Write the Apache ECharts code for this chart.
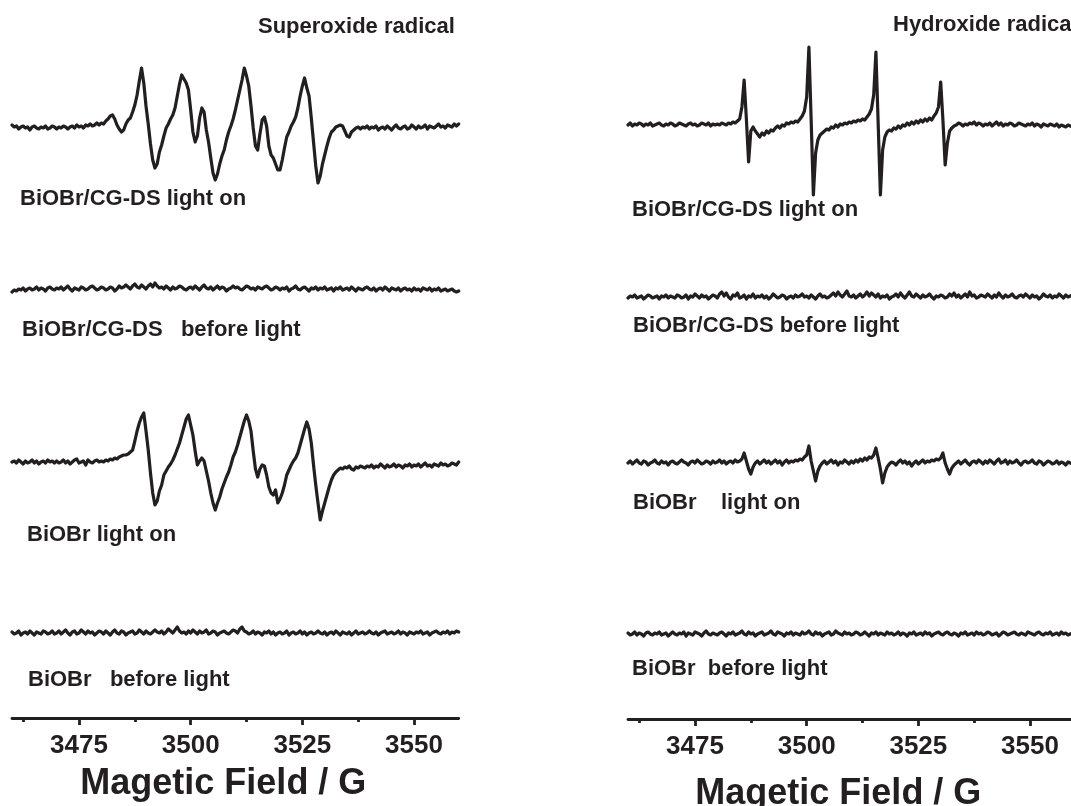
<!DOCTYPE html>
<html>
<head>
<meta charset="utf-8">
<script src="https://cdn.jsdelivr.net/npm/echarts/dist/echarts.min.js"></script>
<style>
html,body{margin:0;padding:0;background:#ffffff;}
#chart{width:1071px;height:806px;}
</style>
</head>
<body>
<div id="chart"></div>
<script>
// ---- Data (intensities in arbitrary units, sampled every 0.5 G from 3460 G) ----
const FIELD_START = 3460;
const FIELD_STEP = 0.5;
const FIELD_MIN = 3460;
const FIELD_MAX = 3560;
const majorTicks = [3475, 3500, 3525, 3550];
const minorTicks = [3462.5, 3487.5, 3512.5, 3537.5];
const axisTitle = 'Magetic Field / G';
const panelTitles = ['Superoxide radical', 'Hydroxide radical'];
const superoxideLabels = ['BiOBr/CG-DS light on', 'BiOBr/CG-DS   before light', 'BiOBr light on', 'BiOBr   before light'];
const hydroxideLabels = ['BiOBr/CG-DS light on', 'BiOBr/CG-DS before light', 'BiOBr    light on', 'BiOBr  before light'];

// Superoxide radical panel
const superoxideCompositeLightOn = [
  3,1,2,-1,1,2,0,1,-2,1,2,0,-1,1,0,2,-1,0,2,1,
  -1,1,0,2,1,-1,1,2,0,3,1,2,0,3,2,4,2,3,5,3,
  5,4,7,9,12,13,9,3,-1,-4,-2,4,8,10,16,23,33,47,60,45,
  22,4,-16,-32,-40,-36,-24,-17,-8,0,4,9,13,20,32,44,53,49,45,38,
  18,-4,-14,-8,10,20,16,-2,-14,-30,-45,-52,-46,-36,-28,-22,-12,-4,2,9,
  18,28,38,48,60,52,42,22,0,-18,-22,-6,8,11,2,-18,-27,-30,-36,-42,
  -42,-32,-20,-9,-4,2,6,11,20,32,42,50,40,32,10,-14,-38,-55,-48,-36,
  -27,-18,-10,-4,-2,1,2,3,2,-3,-8,-9,-4,-2,0,1,-1,1,0,2,
  -1,1,0,2,-2,0,1,-1,2,0,-2,1,3,0,-1,1,2,-1,0,3,
  1,-1,2,0,1,3,-1,2,1,0,2,4,1,2,0,3,2,1,4,2,
  4
];
const superoxideCompositeDark = [
  -3,-1,-2,0,-1,1,-2,0,1,-1,0,2,-1,1,0,-2,1,2,0,-1,
  1,0,2,-1,1,3,0,-2,1,0,-1,2,1,-1,0,2,3,1,-1,0,
  2,1,-1,0,2,1,-2,0,3,1,2,4,2,0,3,5,2,1,4,2,
  0,3,5,2,6,3,1,2,0,3,1,-1,2,0,1,3,2,0,-1,1,
  2,0,3,1,-1,2,4,1,0,2,-1,1,3,0,2,1,-2,0,1,3,
  1,2,0,-1,1,3,2,0,1,-1,2,1,0,2,3,1,-1,0,2,1,
  -1,1,0,2,-2,0,1,3,0,-1,1,2,0,-2,1,0,2,-1,1,0,
  2,-1,0,1,-2,1,0,2,-1,0,1,-1,2,0,-2,1,0,-1,1,2,
  0,-1,1,-2,0,1,-1,2,0,-2,1,0,-1,1,-2,0,1,-1,0,-2,
  1,-1,0,-2,1,0,-1,1,-2,0,-1,1,-2,-1,0,-2,-1,0,-2,-3,
  -2
];
const superoxideBiOBrLightOn = [
  1,2,0,3,1,-1,2,0,1,3,0,2,-1,1,2,0,3,1,2,0,
  2,0,1,3,0,2,-1,1,3,4,0,1,2,-2,3,1,0,2,3,1,
  2,1,3,2,4,3,5,4,6,7,8,8,9,11,13,22,32,40,46,50,
  32,13,-10,-30,-42,-38,-28,-22,-12,-8,-4,-1,3,8,14,20,28,36,44,48,
  38,28,12,-2,2,5,2,-8,-18,-30,-40,-47,-40,-34,-26,-20,-14,-9,-2,6,
  11,18,26,34,42,48,42,32,12,-6,-14,-6,-2,-3,-12,-24,-30,-32,-27,-40,
  -36,-30,-22,-12,-7,-2,2,5,10,18,26,34,41,34,20,-2,-22,-40,-57,-48,
  -40,-32,-24,-17,-12,-9,-7,-5,-6,-4,-5,-3,-6,-7,-4,-5,-3,-4,-5,-3,
  -4,-2,-5,-3,-4,-1,-3,-5,-2,-4,-3,-1,-4,-2,-3,-5,-2,-3,-1,-4,
  -2,-3,-1,-4,-2,0,-3,-2,-4,-1,-2,-3,0,-2,-1,-3,-2,0,-1,-2,
  1
];
const superoxideBiOBrDark = [
  1,-1,0,2,-2,0,1,-1,2,0,-2,1,0,-1,2,1,-1,0,2,-1,
  0,2,-1,1,3,0,-2,1,2,-1,0,3,1,-1,2,0,1,-2,0,2,
  1,-1,2,0,-2,1,3,0,-1,2,1,-2,0,1,2,-1,0,3,1,-1,
  2,0,-1,1,3,1,0,2,-1,1,4,2,0,3,6,2,0,1,-1,2,
  0,3,1,-1,2,0,1,3,-1,0,2,1,-2,0,1,2,0,-1,1,3,
  2,0,4,6,2,1,-1,0,2,-1,1,0,-2,1,0,2,-1,1,-2,0,
  1,-1,0,2,-2,0,1,-1,0,2,-1,1,-2,0,1,-1,0,2,0,-1,
  1,-2,0,1,-1,2,0,-2,1,0,-1,1,-2,0,2,-1,0,1,-1,0,
  2,0,-1,1,-2,0,1,2,-1,0,1,-1,0,2,-1,1,0,-2,1,0,
  -1,1,0,2,-1,0,1,-2,0,1,2,0,-1,1,0,2,-1,1,0,2,
  1
];

// Hydroxide radical panel
const hydroxideCompositeLightOn = [
  0,2,-1,1,0,2,1,-1,1,0,2,-1,0,1,2,0,-1,1,0,2,
  1,-1,0,2,1,0,-1,1,2,0,1,-1,0,2,1,0,2,-1,1,0,
  1,0,2,1,0,2,1,3,2,4,6,18,45,6,-37,-6,-2,-6,-9,-12,
  -8,-10,-6,-8,-5,-6,-3,-1,-3,0,-1,2,1,3,2,4,3,6,9,14,
  28,78,5,-70,-28,-15,-10,-8,-6,-4,-5,-2,-3,0,-2,1,0,2,1,3,
  2,4,3,5,4,6,5,8,11,16,30,73,2,-70,-25,-12,-7,-5,-6,-3,
  -4,-1,-3,0,-1,2,0,3,1,4,2,5,3,6,4,7,5,9,12,18,
  43,5,-40,-18,-6,-3,-1,0,2,1,-1,1,0,2,1,3,0,2,1,-1,
  1,0,2,-1,1,3,0,2,-1,1,0,2,1,-1,0,2,1,0,-1,1,
  0,2,-1,1,0,-2,1,0,-1,1,0,-1,1,-2,0,-1,-2,0,-1,-2,
  -1
];
const hydroxideCompositeDark = [
  -1,1,0,2,-1,0,1,-2,0,2,1,-1,0,1,-2,1,0,2,-1,1,
  0,-1,2,1,-1,0,2,-2,1,0,3,1,-1,2,0,1,-2,0,2,1,
  -1,3,5,1,4,0,-2,2,1,4,-1,0,2,-2,1,0,3,-1,1,0,
  2,-1,1,-2,0,3,1,-1,0,2,1,-2,0,1,-1,2,0,1,3,0,
  1,-1,2,0,-2,1,3,0,1,-1,0,2,4,1,5,2,0,3,6,1,
  0,2,-1,1,3,0,2,5,1,4,2,0,3,-1,1,0,2,-2,0,1,
  3,0,4,1,-1,2,5,1,0,3,1,-1,2,0,1,3,0,-2,1,0,
  2,1,-1,0,3,1,4,0,2,-1,1,3,0,5,1,2,-1,0,2,1,
  0,3,1,-1,2,0,4,1,-1,2,0,1,3,0,-1,1,2,0,3,1,
  -1,2,0,1,-2,0,3,1,0,2,-1,1,0,3,1,-1,2,0,1,2,
  0
];
const hydroxideBiOBrLightOn = [
  0,2,-1,1,3,0,-1,2,1,-2,0,1,3,0,-1,2,0,1,-2,1,
  2,0,-1,1,3,1,0,-2,1,2,0,3,1,-1,0,2,1,-1,2,0,
  1,3,0,2,-1,1,2,0,3,1,2,4,10,2,-6,-11,-4,0,2,-1,
  1,3,0,2,-1,1,3,0,2,-2,1,3,0,2,1,3,2,4,3,6,
  8,17,2,-8,-18,-8,-3,0,2,-1,1,3,0,2,-2,1,0,3,1,-1,
  2,0,3,1,4,2,5,3,6,5,8,15,5,-6,-20,-10,-4,-1,1,0,
  -2,1,3,0,2,-1,1,-3,0,2,-1,1,3,0,2,1,3,2,4,3,
  5,10,0,-6,-11,-5,-2,0,2,-1,1,3,0,-2,1,2,0,3,1,-1,
  2,0,3,1,-1,2,4,0,1,3,-1,2,0,1,3,0,-2,1,2,0,
  1,3,0,-1,2,1,-2,0,2,1,-1,0,2,-1,1,0,-2,1,0,-1,
  0
];
const hydroxideBiOBrDark = [
  1,-1,0,2,-1,1,0,-2,1,2,0,-1,1,0,2,-1,0,1,-2,0,
  2,0,-1,1,0,2,-2,1,0,-1,2,1,0,-2,1,3,0,-1,1,0,
  -1,1,2,0,-2,1,0,2,-1,0,1,3,0,-1,2,0,1,-2,0,1,
  2,-1,0,1,3,0,-1,2,1,0,-2,1,0,2,-1,1,0,-1,2,0,
  1,3,0,-1,2,0,1,-2,0,1,2,-1,0,3,1,0,-1,2,0,1,
  -1,0,2,1,-1,0,2,0,-2,1,0,2,-1,1,0,-1,2,0,1,-1,
  0,2,-1,1,0,-2,1,0,2,-1,0,1,-1,2,0,1,-2,0,1,2,
  0,-1,1,2,0,-1,1,0,-2,1,0,2,-1,0,1,-1,2,0,1,-1,
  0,2,1,-1,0,1,-2,0,2,1,-1,0,1,2,0,-1,1,0,-1,2,
  1,0,-1,1,2,0,-1,1,0,2,-1,0,1,-1,2,0,1,-1,0,1,
  0
];

// ---- Layout ----
const INK = '#231f20';
const FONT = '"Liberation Sans", Arial, Helvetica, sans-serif';
const HALF = 80; // half-height of each trace band (1 px per a.u.)
const PLOT_WIDTH = 446.7;
const TRACE_WIDTH = 3.2;

const panels = [
  { left: 12, series: [superoxideCompositeLightOn, superoxideCompositeDark, superoxideBiOBrLightOn, superoxideBiOBrDark],
    baselines: [128, 289, 463, 633], axisY: 718, nameGap: 48, namePadRight: 24 },
  { left: 628, series: [hydroxideCompositeLightOn, hydroxideCompositeDark, hydroxideBiOBrLightOn, hydroxideBiOBrDark],
    baselines: [125, 297, 463, 634], axisY: 719, nameGap: 57, namePadRight: 26 }
];

function toPairs(values) {
  return values.map((v, i) => [FIELD_START + i * FIELD_STEP, v]);
}

const grid = [], xAxis = [], yAxis = [], series = [];
panels.forEach((p) => {
  p.series.forEach((vals, si) => {
    const gi = grid.length;
    grid.push({ left: p.left, width: PLOT_WIDTH, top: p.baselines[si] - HALF, height: 2 * HALF,
                containLabel: false, outerBoundsMode: 'none' });
    const xi = xAxis.length, yi = yAxis.length;
    xAxis.push({ type: 'value', gridIndex: gi, min: FIELD_MIN, max: FIELD_MAX, show: false });
    yAxis.push({ type: 'value', gridIndex: gi, min: -HALF, max: HALF, show: false });
    series.push({
      type: 'line', xAxisIndex: xi, yAxisIndex: yi, data: toPairs(vals),
      showSymbol: false, symbol: 'none', clip: false,
      lineStyle: { color: INK, width: TRACE_WIDTH, join: 'round', cap: 'round' }, silent: true
    });
  });
  // axis-only grid carrying the visible field axis
  const ag = grid.length;
  grid.push({ left: p.left, width: PLOT_WIDTH, top: p.axisY - 20, height: 20,
              containLabel: false, outerBoundsMode: 'none' });
  const ayi = yAxis.length;
  yAxis.push({ type: 'value', gridIndex: ag, min: 0, max: 1, show: false });
  const axi = xAxis.length;
  xAxis.push({
    type: 'value', gridIndex: ag, position: 'bottom', offset: 0, min: FIELD_MIN, max: FIELD_MAX,
    splitLine: { show: false },
    axisLine: { show: true, onZero: false, lineStyle: { color: INK, width: 2.8 } },
    axisTick: { show: true, customValues: majorTicks, length: 7, lineStyle: { color: INK, width: 2.8 } },
    axisLabel: { show: true, customValues: majorTicks, margin: 15, color: INK, fontSize: 26, fontWeight: 'bold',
                 fontFamily: FONT, formatter: (v) => String(v) },
    name: axisTitle, nameLocation: 'middle', nameGap: p.nameGap,
    nameTextStyle: { color: INK, fontSize: 36, fontWeight: 'bold', fontFamily: FONT, padding: [0, p.namePadRight, 0, 0] }
  });
  xAxis.push({
    type: 'value', gridIndex: ag, position: 'bottom', offset: 0, min: FIELD_MIN, max: FIELD_MAX,
    splitLine: { show: false },
    axisLine: { show: false, onZero: false },
    axisTick: { show: true, customValues: minorTicks, length: 4, lineStyle: { color: INK, width: 2.8 } },
    axisLabel: { show: false }
  });
  series.push({ type: 'line', xAxisIndex: axi, yAxisIndex: ayi, data: [], silent: true });
});

const labelSpecs = [
  { text: panelTitles[0], x: 258, y: 27 },
  { text: panelTitles[1], x: 893, y: 25 },
  { text: superoxideLabels[0], x: 20, y: 199 },
  { text: superoxideLabels[1], x: 22, y: 330 },
  { text: superoxideLabels[2], x: 27, y: 535 },
  { text: superoxideLabels[3], x: 28, y: 680 },
  { text: hydroxideLabels[0], x: 632, y: 210 },
  { text: hydroxideLabels[1], x: 633, y: 326 },
  { text: hydroxideLabels[2], x: 633, y: 503 },
  { text: hydroxideLabels[3], x: 632, y: 669 }
];

const graphic = labelSpecs.map(l => ({
  type: 'text', x: l.x, y: l.y, silent: true,
  style: { text: l.text, fill: INK, font: 'bold 22px ' + FONT, verticalAlign: 'middle', align: 'left' }
}));

const chart = echarts.init(document.getElementById('chart'), null, { renderer: 'canvas' });
chart.setOption({
  backgroundColor: '#ffffff',
  animation: false,
  grid, xAxis, yAxis, series, graphic
});
</script>
</body>
</html>
